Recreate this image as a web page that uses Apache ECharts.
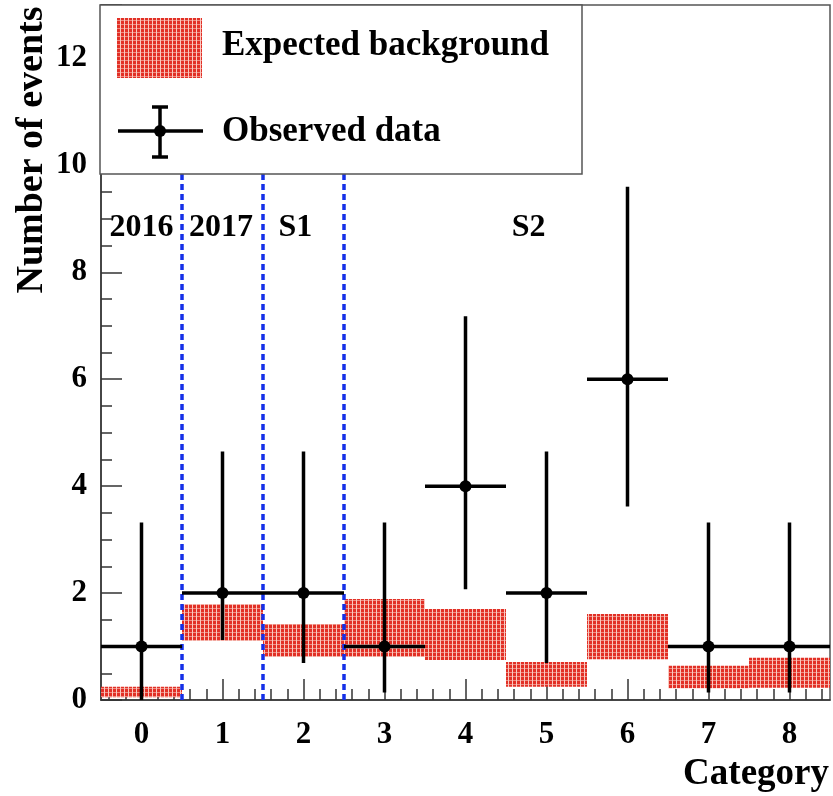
<!DOCTYPE html>
<html>
<head>
<meta charset="utf-8">
<script src="https://cdn.jsdelivr.net/npm/echarts@6/dist/echarts.min.js"></script>
<style>
  html, body { margin: 0; padding: 0; background: #fff; }
  #chart { width: 833px; height: 796px; }
</style>
</head>
<body>
<div id="chart"></div>
<script>
// categories and observed counts
const categories = [0, 1, 2, 3, 4, 5, 6, 7, 8]
const observed = [1, 2, 2, 1, 4, 2, 6, 1, 1]
const obsLow = [0, 1.12, 0.69, 0.14, 2.07, 0.69, 3.62, 0.14, 0.14]
const obsHigh = [3.32, 4.65, 4.65, 3.32, 7.18, 4.65, 9.6, 3.32, 3.32]

// expected background band (low, high) per category
const bkgLow = [0.05, 1.11, 0.81, 0.81, 0.75, 0.25, 0.76, 0.22, 0.23]
const bkgHigh = [0.25, 1.79, 1.42, 1.89, 1.70, 0.71, 1.61, 0.64, 0.79]

// data-taking period separators and labels
const periodEdges = [0.5, 1.5, 2.5]
const periodLabels = ['2016', '2017', 'S1', 'S2']
const periodLabelX = [0.0, 0.98, 1.9, 4.78]
const periodLabelY = 8.83

const xMajorTicks = [0, 1, 2, 3, 4, 5, 6, 7, 8]

const serif = '"Liberation Serif", "Times New Roman", serif'

// minor x ticks every 0.2 inside bins
let xMinorTicks = []
for (let i = -2; i <= 42; i++) {
    if (i % 5 !== 0) xMinorTicks.push(Math.round(i * 0.2 * 10) / 10)
}

// hatched red fill like ROOT's fill style
function makePattern() {
    let c = document.createElement('canvas')
    c.width = 4
    c.height = 4
    let ctx = c.getContext('2d')
    ctx.fillStyle = 'rgb(226,48,38)'
    ctx.fillRect(0, 0, 4, 4)
    ctx.fillStyle = 'rgb(238,140,130)'
    ctx.fillRect(0, 0, 4, 1)
    ctx.fillStyle = 'rgb(250,200,192)'
    ctx.fillRect(0, 0, 1, 4)
    return c
}
const redFill = { image: makePattern(), repeat: 'repeat' }

let chart = echarts.init(document.getElementById('chart'))

let option = {
    animation: false,
    grid: {
        left: 101, right: 3, top: 5, bottom: 96,
        show: true, borderColor: '#555', borderWidth: 1.5
    },
    xAxis: [{
        type: 'value', min: -0.5, max: 8.5,
        axisLine: { onZero: false, lineStyle: { color: '#333', width: 1.5 } },
        axisTick: { inside: true, length: 21, customValues: xMajorTicks, lineStyle: { color: '#333', width: 1.5 } },
        axisLabel: {
            customValues: xMajorTicks, margin: 19,
            fontFamily: serif, fontWeight: 'bold', fontSize: 31, color: '#000'
        },
        splitLine: { show: false }
    }, {
        type: 'value', min: -0.5, max: 8.5, position: 'bottom',
        axisLine: { show: false, onZero: false },
        axisTick: { inside: true, length: 11, customValues: xMinorTicks, lineStyle: { color: '#333', width: 1.5 } },
        axisLabel: { show: false },
        splitLine: { show: false }
    }],
    yAxis: {
        type: 'value', min: 0, max: 13, interval: 2,
        axisLine: { show: true, onZero: false, lineStyle: { color: '#333', width: 1.5 } },
        axisTick: { inside: true, length: 21, lineStyle: { color: '#333', width: 1.5 } },
        minorTick: { show: true, splitNumber: 4, length: 11, lineStyle: { color: '#333', width: 1.5 } },
        axisLabel: {
            showMaxLabel: false, margin: 14,
            fontFamily: serif, fontWeight: 'bold', fontSize: 31, color: '#000'
        },
        splitLine: { show: false }
    },
    series: [{
        name: 'Expected background',
        type: 'custom',
        z: 2,
        data: categories.map((c, i) => [c, bkgLow[i], bkgHigh[i]]),
        renderItem: function (params, api) {
            let p0 = api.coord([api.value(0) - 0.5, api.value(2)])
            let p1 = api.coord([api.value(0) + 0.5, api.value(1)])
            return {
                type: 'rect',
                shape: { x: p0[0], y: p0[1], width: p1[0] - p0[0], height: p1[1] - p0[1] },
                style: { fill: redFill }
            }
        }
    }, {
        name: 'Periods',
        type: 'custom',
        z: 3,
        data: periodEdges.map(x => [x]),
        renderItem: function (params, api) {
            let a = api.coord([api.value(0), 0])
            let b = api.coord([api.value(0), 13])
            return {
                type: 'line',
                shape: { x1: a[0], y1: a[1], x2: b[0], y2: b[1] },
                style: { stroke: '#1530e8', lineWidth: 3.5, lineDash: [6, 4] }
            }
        }
    }, {
        name: 'Observed data',
        type: 'custom',
        z: 4,
        data: categories.map((c, i) => [c, observed[i], obsLow[i], obsHigh[i]]),
        renderItem: function (params, api) {
            let x = api.value(0)
            let c = api.coord([x, api.value(1)])
            let l = api.coord([x - 0.5, api.value(1)])
            let r = api.coord([x + 0.5, api.value(1)])
            let lo = api.coord([x, api.value(2)])
            let hi = api.coord([x, api.value(3)])
            let st = { stroke: '#000', lineWidth: 3.5 }
            return {
                type: 'group',
                children: [
                    { type: 'line', shape: { x1: l[0], y1: l[1], x2: r[0], y2: r[1] }, style: st },
                    { type: 'line', shape: { x1: lo[0], y1: lo[1], x2: hi[0], y2: hi[1] }, style: st },
                    { type: 'circle', shape: { cx: c[0], cy: c[1], r: 6 }, style: { fill: '#000' } }
                ]
            }
        }
    }, {
        name: 'Period labels',
        type: 'custom',
        z: 5,
        data: periodLabels.map((t, i) => [periodLabelX[i], periodLabelY, t]),
        renderItem: function (params, api) {
            let p = api.coord([api.value(0), api.value(1)])
            return {
                type: 'text',
                style: {
                    x: p[0], y: p[1], text: periodLabels[params.dataIndex],
                    align: 'center', verticalAlign: 'middle',
                    font: 'bold 32px ' + serif, fill: '#000'
                }
            }
        }
    }],
    graphic: [
        // legend box
        { type: 'rect', z: 100, shape: { x: 100, y: 5, width: 482, height: 169 },
          style: { fill: '#fff', stroke: '#555', lineWidth: 1.5 } },
        { type: 'rect', z: 101, shape: { x: 117, y: 18, width: 85, height: 60 },
          style: { fill: redFill } },
        { type: 'text', z: 101, style: { x: 222, y: 46, text: 'Expected background',
          font: 'bold 35px ' + serif, fill: '#000', verticalAlign: 'middle' } },
        { type: 'line', z: 101, shape: { x1: 118, y1: 131, x2: 203, y2: 131 }, style: { stroke: '#000', lineWidth: 3.5 } },
        { type: 'line', z: 101, shape: { x1: 160, y1: 107, x2: 160, y2: 157 }, style: { stroke: '#000', lineWidth: 3.5 } },
        { type: 'line', z: 101, shape: { x1: 152, y1: 107, x2: 168, y2: 107 }, style: { stroke: '#000', lineWidth: 3.5 } },
        { type: 'line', z: 101, shape: { x1: 152, y1: 157, x2: 168, y2: 157 }, style: { stroke: '#000', lineWidth: 3.5 } },
        { type: 'circle', z: 101, shape: { cx: 160, cy: 131, r: 6 }, style: { fill: '#000' } },
        { type: 'text', z: 101, style: { x: 222, y: 132, text: 'Observed data',
          font: 'bold 35px ' + serif, fill: '#000', verticalAlign: 'middle' } },
        // axis titles
        { type: 'text', z: 101, x: 32, y: 150, rotation: Math.PI / 2,
          style: { x: 0, y: 0, text: 'Number of events', font: 'bold 38px ' + serif,
                   fill: '#000', align: 'center', verticalAlign: 'middle' } },
        { type: 'text', z: 101, style: { x: 829, y: 774, text: 'Category', font: 'bold 37px ' + serif,
          fill: '#000', align: 'right', verticalAlign: 'middle' } }
    ]
}

chart.setOption(option)
</script>
</body>
</html>
